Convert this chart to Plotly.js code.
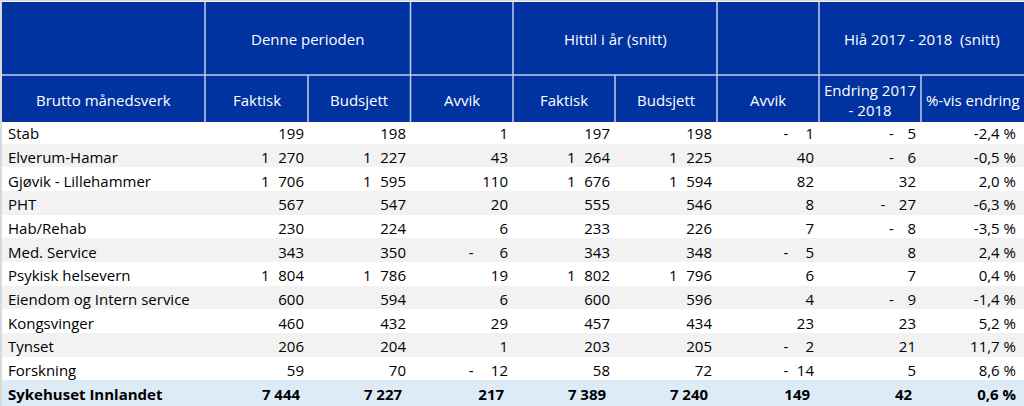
<!DOCTYPE html>
<html>
<head>
<meta charset="utf-8">
<script src="https://cdn.plot.ly/plotly-3.0.1.min.js"></script>
<style>
html,body{margin:0;padding:0;background:#fff;}
#chart{width:1024px;height:406px;}
</style>
</head>
<body>
<div id="chart"></div>
<script>
// ---- data ----
const units = ["Stab","Elverum-Hamar","Gjøvik - Lillehammer","PHT","Hab/Rehab","Med. Service","Psykisk helsevern","Eiendom og Intern service","Kongsvinger","Tynset","Forskning","Sykehuset Innlandet"];
const periodFaktisk  = [199,1270,1706,567,230,343,1804,600,460,206,59,7444];
const periodBudsjett = [198,1227,1595,547,224,350,1786,594,432,204,70,7227];
const periodAvvik    = [1,43,110,20,6,-6,19,6,29,1,-12,217];
const ytdFaktisk     = [197,1264,1676,555,233,343,1802,600,457,203,58,7389];
const ytdBudsjett    = [198,1225,1594,546,226,348,1796,596,434,205,72,7240];
const ytdAvvik       = [-1,40,82,8,7,-5,6,4,23,-2,-14,149];
const endring        = [-5,-6,32,-27,-8,8,7,-9,23,21,5,42];
const prosent        = [-2.4,-0.5,2.0,-6.3,-3.5,2.4,0.4,-1.4,5.2,11.7,8.6,0.6];

const groupHeaders = ["Denne perioden","Hittil i år (snitt)","Hiå 2017 - 2018  (snitt)"];
const colHeaders = ["Brutto månedsverk","Faktisk","Budsjett","Avvik","Faktisk","Budsjett","Avvik","Endring 2017<br>- 2018","%-vis endring"];

// ---- formatting ----
const FS = "\u2007", NB = "\u00a0", TH = "\u2009";
const nRows = units.length, last = nRows - 1;
function thousands(v, sep){
  const s = String(Math.abs(v));
  return s.length > 3 ? s.slice(0, s.length-3) + sep + s.slice(-3) : s;
}
function fmtNum(arr){
  return arr.map((v,i) => i===last ? thousands(v,NB)+NB : thousands(v,FS));
}
function fmtAcc(arr, gap, width){
  return arr.map((v,i) => {
    if (i===last) return String(v)+NB;
    if (v >= 0) return String(v);
    let s = String(Math.abs(v));
    while (s.length < width) s = FS + s;
    return "-" + gap + s;
  });
}
function fmtPct(arr){
  return arr.map(v => v.toFixed(1).replace(".", ",") + NB + "%");
}

const cellValues = [
  units,
  fmtNum(periodFaktisk), fmtNum(periodBudsjett), fmtAcc(periodAvvik, FS+FS, 2),
  fmtNum(ytdFaktisk), fmtNum(ytdBudsjett), fmtAcc(ytdAvvik, FS, 2),
  fmtAcc(endring, FS+TH+TH, 1), fmtPct(prosent)
];
const rowFill = units.map((u,i) => i===last ? "#ddebf7" : (i%2===1 ? "#f2f2f2" : "#ffffff"));
const rowWeight = units.map((u,i) => i===last ? "bold" : "normal");
const fills = cellValues.map(() => rowFill);
const weights = cellValues.map(() => rowWeight);

// ---- geometry (px) ----
const W = 1024, H = 406;
const edges = [2,205,308,410.5,513,615,717,819,921,1024];      // visible grid
const textEdges = [0,208,312,414,516,618,720,822,924,1024];    // table columns (text padding 8px)
const row1Top = 2, row1Bot = 75, headBot = 122, shift = 2;
const BLUE = "#0033a0", LINE = "#c3cde6", TOTAL = "#ddebf7";
const px = x => x / W, py = y => 1 - y / H;
const widths = textEdges.slice(1).map((e,i) => e - textEdges[i]);
const font = "'Open Sans', Lato, sans-serif";
const FSIZE = 15;

const trace = {
  type: "table",
  domain: {x: [0, 1], y: [0, py(row1Bot - shift)]},
  columnwidth: widths,
  header: {
    values: colHeaders.map(() => ""),
    height: headBot - row1Bot,
    fill: {color: BLUE},
    line: {color: BLUE, width: 0}
  },
  cells: {
    values: cellValues,
    height: (H - headBot) / nRows,
    align: ["left","right","right","right","right","right","right","right","right"],
    fill: {color: fills},
    line: {color: fills, width: 0},
    font: {family: font, size: FSIZE, color: "#000000", weight: weights}
  }
};

const shapes = [
  {type:"rect", xref:"paper", yref:"paper", x0:0, x1:1, y0:0, y1:py(H-20), fillcolor:TOTAL, line:{width:0}, layer:"below"},
  {type:"rect", xref:"paper", yref:"paper", x0:px(edges[0]), x1:1, y0:py(headBot), y1:py(row1Top), fillcolor:BLUE, line:{width:0}, layer:"above"},
  {type:"rect", xref:"paper", yref:"paper", x0:0, x1:px(edges[0]), y0:py(headBot), y1:1, fillcolor:"#ffffff", line:{width:0}, layer:"above"},
  {type:"line", xref:"paper", yref:"paper", x0:0, x1:1, y0:py(0.5), y1:py(0.5), line:{color:"#d9d9d9", width:1.5}, layer:"above"},
  {type:"line", xref:"paper", yref:"paper", x0:px(1), x1:px(1), y0:0, y1:1, line:{color:"#d9d9d9", width:2}, layer:"above"},
  {type:"line", xref:"paper", yref:"paper", x0:px(edges[0]), x1:1, y0:py(row1Bot), y1:py(row1Bot), line:{color:LINE, width:1.5}, layer:"above"}
];
[edges[1], edges[3], edges[4], edges[6], edges[7]].forEach(x => {
  shapes.push({type:"line", xref:"paper", yref:"paper", x0:px(x), x1:px(x), y0:py(row1Bot), y1:py(row1Top), line:{color:LINE, width:1.5}, layer:"above"});
});
edges.slice(1, -1).forEach(x => {
  shapes.push({type:"line", xref:"paper", yref:"paper", x0:px(x), x1:px(x), y0:py(headBot), y1:py(row1Bot), line:{color:LINE, width:1.5}, layer:"above"});
});

const hfont = {family:font, size:FSIZE, color:"#ffffff"};
const groupSpans = [[edges[1],edges[3]],[edges[4],edges[6]],[edges[7],edges[9]]];
const annotations = groupHeaders.map((t,i) => ({
  text: t, xref:"paper", yref:"paper",
  x: px((groupSpans[i][0]+groupSpans[i][1])/2), y: py((row1Top+row1Bot)/2),
  xanchor:"center", yanchor:"middle", showarrow:false, font:hfont
}));
colHeaders.forEach((t,i) => {
  annotations.push({
    text: t, xref:"paper", yref:"paper",
    x: px((edges[i]+edges[i+1])/2), y: py((row1Bot+headBot)/2 + 1),
    xanchor:"center", yanchor:"middle", showarrow:false, font:hfont
  });
});

Plotly.newPlot("chart", [trace], {
  width: W, height: H,
  margin: {l:0, r:0, t:0, b:0, pad:0},
  paper_bgcolor: "#ffffff",
  shapes: shapes,
  annotations: annotations,
  showlegend: false
}, {displayModeBar: false, staticPlot: true});
</script>
</body>
</html>
